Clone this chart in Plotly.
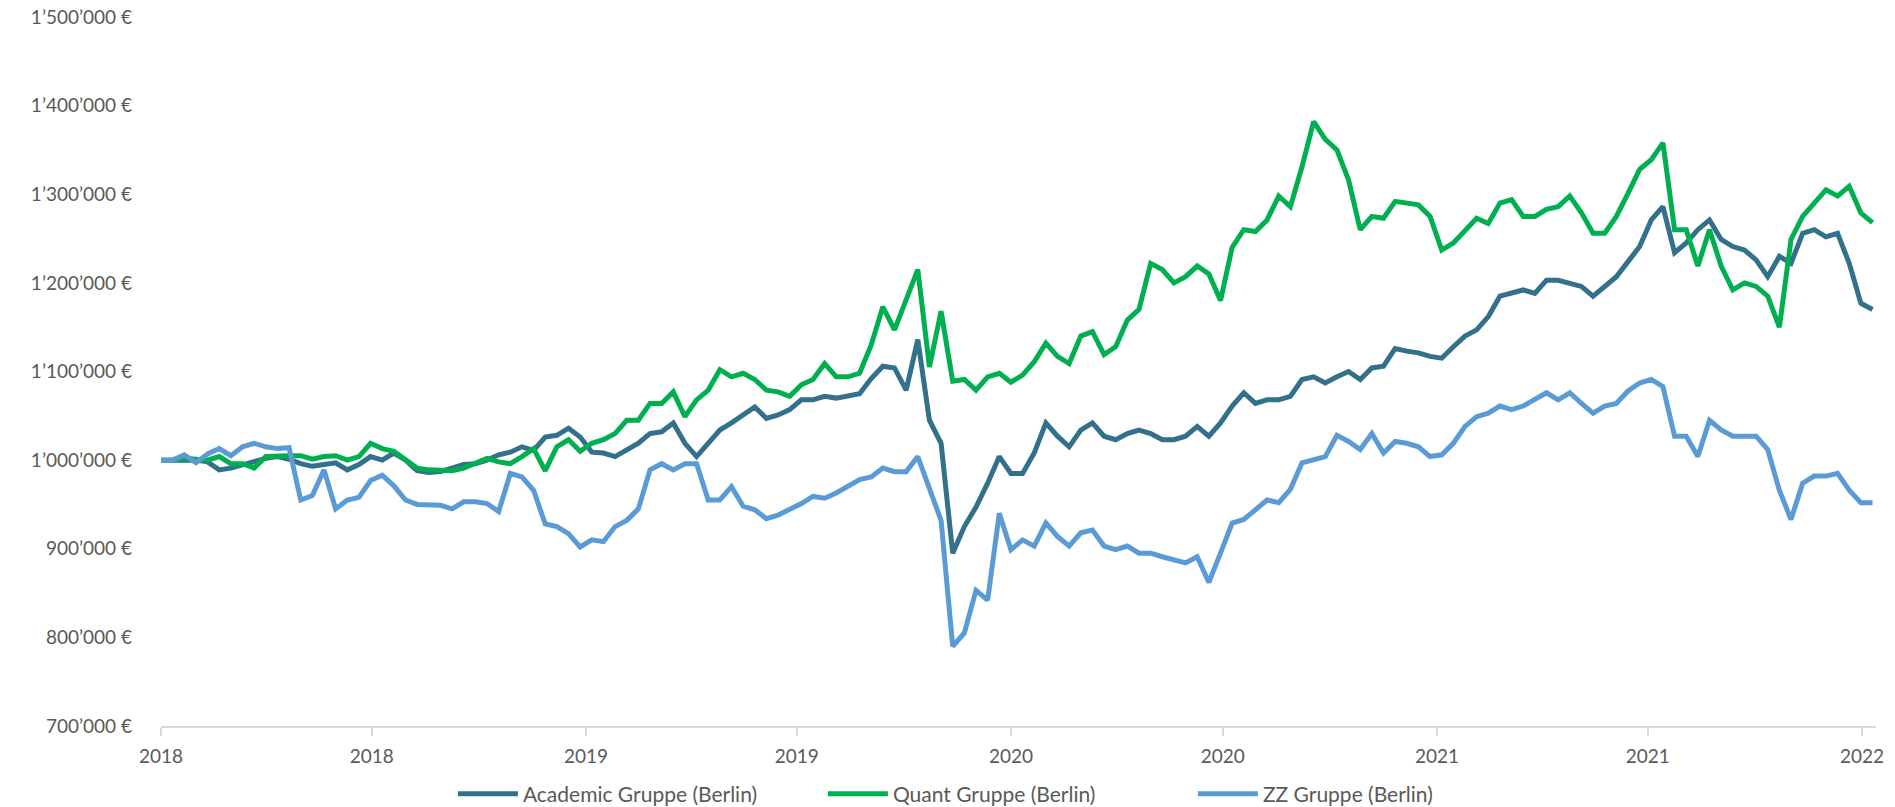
import pandas as pd
import plotly.graph_objects as go

# Dates: 10-day sampling, 148 points
dates = pd.date_range("2018-01-01", periods=148, freq="10D")

academic = [1000, 1000, 1000, 1000, 998, 989, 991, 995, 998, 1002,
            1004, 1001, 996, 993, 995, 997, 989, 995, 1004, 1000,
            1008, 1000, 988, 986, 987, 991, 995, 996, 1000, 1006,
            1009, 1015, 1011, 1026, 1028, 1036, 1026, 1009, 1008, 1004,
            1011, 1019, 1030, 1032, 1042, 1019, 1004, 1019, 1034, 1042,
            1051, 1060, 1047, 1051, 1057, 1068, 1068, 1072, 1070, 1072,
            1075, 1092, 1106, 1104, 1079, 1136, 1045, 1019, 895, 925,
            947, 974, 1004, 985, 985, 1008, 1042, 1027, 1015, 1034,
            1042, 1027, 1023, 1030, 1034, 1030, 1023, 1023, 1027, 1038,
            1027, 1042, 1061, 1076, 1064, 1068, 1068, 1072, 1091, 1094,
            1087, 1094, 1100, 1091, 1104, 1106, 1126, 1123, 1121, 1117,
            1115, 1128, 1140, 1147, 1162, 1185, 1188, 1192, 1188, 1203,
            1203, 1200, 1196, 1185, 1196, 1207, 1224, 1241, 1271, 1286,
            1234, 1245, 1260, 1271, 1249, 1241, 1237, 1226, 1207, 1230,
            1222, 1256, 1260, 1252, 1256, 1222, 1177, 1170]

quant = [1000, 1000, 1002, 1001, 1000, 1004, 996, 996, 991, 1004,
         1005, 1005, 1005, 1001, 1004, 1005, 1000, 1004, 1019, 1013,
         1010, 1000, 991, 989, 989, 988, 991, 996, 1002, 998,
         996, 1004, 1013, 988, 1015, 1023, 1010, 1019, 1023, 1030,
         1045, 1045, 1064, 1064, 1077, 1049, 1068, 1079, 1102, 1094,
         1098, 1091, 1079, 1077, 1072, 1085, 1091, 1109, 1094, 1094,
         1098, 1130, 1173, 1147, 1181, 1215, 1105, 1168, 1089, 1091,
         1079, 1094, 1098, 1088, 1096, 1111, 1132, 1117, 1109, 1140,
         1145, 1119, 1128, 1158, 1170, 1222, 1215, 1200, 1207, 1219,
         1210, 1180, 1240, 1260, 1258, 1271, 1298, 1286, 1331, 1382,
         1362, 1350, 1316, 1260, 1275, 1273, 1292, 1290, 1288, 1275,
         1237, 1245, 1260, 1273, 1267, 1290, 1294, 1275, 1275, 1283,
         1286, 1298, 1279, 1256, 1256, 1275, 1301, 1328, 1339, 1358,
         1260, 1260, 1219, 1260, 1219, 1192, 1200, 1196, 1185, 1150,
         1249, 1275, 1290, 1305, 1298, 1309, 1279, 1268]

zz = [1000, 1000, 1006, 997, 1007, 1013, 1005, 1015, 1019, 1015,
      1013, 1014, 955, 960, 989, 945, 955, 958, 977, 983,
      971, 955, 950, 950, 949, 945, 953, 953, 951, 942,
      985, 981, 966, 928, 925, 917, 902, 910, 908, 925,
      932, 945, 989, 996, 989, 996, 996, 955, 955, 970,
      948, 944, 934, 938, 944, 951, 959, 957, 963, 970,
      978, 981, 991, 987, 987, 1004, 966, 932, 790, 805,
      853, 842, 940, 899, 910, 903, 929, 914, 903, 918,
      921, 903, 899, 903, 895, 895, 891, 888, 884, 891,
      862, 895, 929, 933, 944, 955, 952, 967, 997, 1000,
      1004, 1028, 1021, 1012, 1030, 1008, 1021, 1019, 1015, 1004,
      1006, 1019, 1038, 1049, 1053, 1061, 1057, 1061, 1068, 1076,
      1068, 1076, 1064, 1053, 1061, 1064, 1078, 1087, 1091, 1083,
      1027, 1027, 1004, 1045, 1034, 1027, 1027, 1027, 1012, 966,
      933, 974, 982, 982, 985, 966, 952, 952]

series_names = ["Academic Gruppe (Berlin)", "Quant Gruppe (Berlin)", "ZZ Gruppe (Berlin)"]
series_colors = ["#32708C", "#00B050", "#5B9BD5"]

x_tickvals = ["2018-01-01", "2018-07-01", "2019-01-01", "2019-07-01", "2020-01-01",
              "2020-07-01", "2021-01-01", "2021-07-01", "2022-01-01"]
x_ticktext = ["2018", "2018", "2019", "2019", "2020", "2020", "2021", "2021", "2022"]

y_tickvals = [700, 800, 900, 1000, 1100, 1200, 1300, 1400, 1500]
y_ticktext = ["700’000 €", "800’000 €", "900’000 €", "1’000’000 €", "1’100’000 €",
              "1’200’000 €", "1’300’000 €", "1’400’000 €", "1’500’000 €"]

fig = go.Figure()
for name, vals, col in zip(series_names, [academic, quant, zz], series_colors):
    fig.add_trace(go.Scatter(x=dates, y=vals, mode="lines", name=name,
                             line=dict(color=col, width=5)))

txt = "#595959"
fig.update_layout(
    width=1895, height=807,
    margin=dict(l=161, r=19, t=17, b=81, autoexpand=False),
    paper_bgcolor="white", plot_bgcolor="white",
    font=dict(family="Lato, sans-serif", color=txt, size=19),
    showlegend=True,
    legend=dict(orientation="h", xref="container", yref="container",
                x=0.239, xanchor="left", y=0.016, yanchor="middle",
                font=dict(size=21, color=txt), itemwidth=60,
                entrywidth=295, entrywidthmode="pixels"),
)
fig.update_xaxes(
    type="date", range=["2018-01-01", "2022-01-13"],
    tickvals=x_tickvals, ticktext=x_ticktext,
    showgrid=False, zeroline=False,
    showline=True, linecolor="#D9D9D9", linewidth=1.5,
    ticks="outside", ticklen=8, tickcolor="#D9D9D9", tickwidth=1.5,
    tickfont=dict(size=19, color=txt), ticklabelstandoff=4,
)
fig.update_yaxes(
    range=[700, 1500], tickvals=y_tickvals, ticktext=y_ticktext,
    showgrid=False, zeroline=False, showline=False,
    tickfont=dict(size=19, color=txt), ticklabelstandoff=28,
)

fig.write_html("out.html", config={"displayModeBar": False},
               post_script="document.body.style.margin='0';")
